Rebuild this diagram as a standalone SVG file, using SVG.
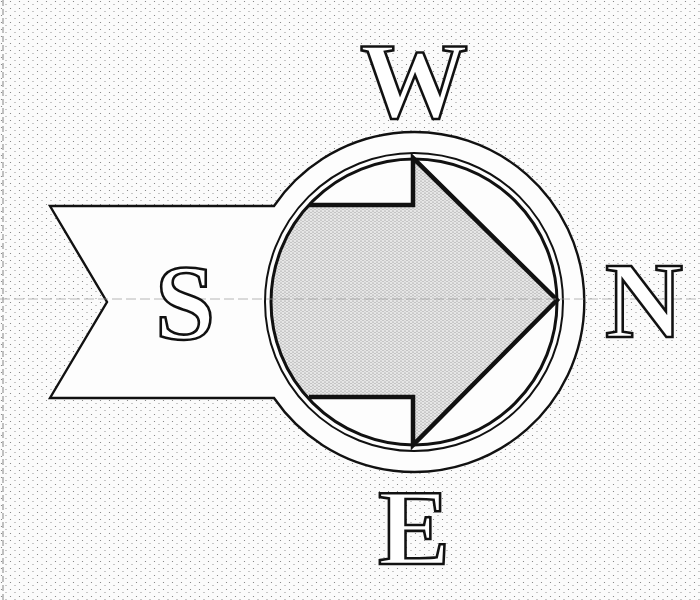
<svg xmlns="http://www.w3.org/2000/svg" width="700" height="600" viewBox="0 0 700 600">
  <defs>
    <pattern id="stip" width="9" height="7" patternUnits="userSpaceOnUse">
      <rect width="9" height="7" fill="#fbfbfb"/>
      <circle cx="1.5" cy="1.5" r="0.6" fill="#777"/>
      <circle cx="6" cy="4.5" r="0.6" fill="#888"/>
    </pattern>
    <pattern id="shade" width="4" height="3" patternUnits="userSpaceOnUse">
      <rect width="4" height="3" fill="#e6e6e6"/>
      <circle cx="1" cy="1" r="0.6" fill="#7a7a7a"/>
      <circle cx="3" cy="2.5" r="0.5" fill="#8a8a8a"/>
    </pattern>
    <clipPath id="innerClip">
      <circle cx="414" cy="302" r="143"/>
    </clipPath>
    <style>
      .ln{fill:none;stroke:#111;}
      .letter{font-family:"Liberation Serif","Times New Roman",serif;font-size:108px;font-weight:bold;fill:#fff;stroke:#111;stroke-width:2.6;text-anchor:middle;}
    </style>
  </defs>

  <rect width="700" height="600" fill="url(#stip)"/>
  <line x1="3" y1="0" x2="3" y2="600" stroke="#999" stroke-width="1.2" stroke-dasharray="6 3"/>

  <g id="banner">
    <path d="M50,206 L274,206 A170,170 0 1 1 274,398 L50,398 L107,302 Z" fill="#fdfdfd" stroke="none"/>
    <path class="ln" stroke-width="2.4" d="M50,206 L274,206 A170,170 0 1 1 274,398 L50,398 L107,302 Z"/>
  </g>

  <g id="compass">
    <circle cx="414" cy="302" r="149" fill="#fdfdfd" class="ln" stroke-width="2"/>
    <path d="M200,205 L413,205 L413,158 L557,300 L413,445 L413,397 L200,397 Z" fill="url(#shade)" clip-path="url(#innerClip)"/>
    <circle cx="414" cy="302" r="143" class="ln" stroke-width="3"/>
    <path class="ln" stroke="#222" stroke-width="4.5" stroke-linejoin="miter" d="M309,205 L413,205 L413,158 L557,300 L413,445 L413,397 L309,397"/>
  </g>

  <line x1="0" y1="299" x2="700" y2="299" stroke="#9a9a9a" stroke-width="1" stroke-dasharray="10 4" opacity="0.7"/>

  <g id="letters">
    <text class="letter" x="414" y="117">W</text>
    <text class="letter" x="185" y="339">S</text>
    <text class="letter" x="644" y="337">N</text>
    <text class="letter" x="414" y="564">E</text>
  </g>
</svg>
